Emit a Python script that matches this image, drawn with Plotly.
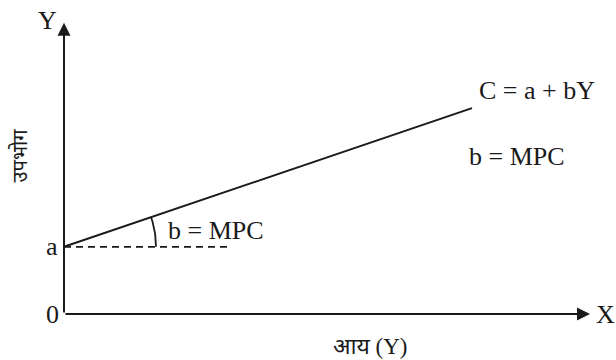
import numpy as np
import plotly.graph_objects as go

# Data (diagram units)
a = 1.68          # autonomous consumption (intercept)
b = 0.34          # MPC (slope)
income = [0.0, 10.2]
consumption = [a + b * v for v in income]
dash_end = 4.15
x_axis_end = 13.15
y_axis_end = 7.28
arc_radius = 2.3

labels = {
    "y_title": "उपभोग",
    "x_title": "आय (Y)",
    "eq": "C = a + bY",
    "mpc": "b = MPC",
}

SERIF = "Liberation Serif, Times New Roman, serif"
DEV = "Liberation Serif, Noto Sans, Lohit Devanagari, FreeSerif, sans-serif"

fig = go.Figure()

# consumption function line
fig.add_trace(go.Scatter(x=income, y=consumption, mode="lines",
                         line=dict(color="#1a1a1a", width=2), hoverinfo="skip"))
# dashed horizontal at a
fig.add_trace(go.Scatter(x=[0, dash_end], y=[a, a], mode="lines",
                         line=dict(color="#1a1a1a", width=1.8, dash="7px,5px"), hoverinfo="skip"))
# angle arc
theta = np.linspace(0, np.arctan(b), 30)
fig.add_trace(go.Scatter(x=arc_radius * np.cos(theta), y=a + arc_radius * np.sin(theta),
                         mode="lines", line=dict(color="#1a1a1a", width=1.8), hoverinfo="skip"))

# axes with arrows
fig.add_annotation(x=0, y=y_axis_end, ax=0, ay=0, xref="x", yref="y", axref="x", ayref="y",
                   showarrow=True, arrowhead=2, arrowsize=1.3, arrowwidth=2, arrowcolor="#1a1a1a", text="")
fig.add_annotation(x=x_axis_end, y=0, ax=0, ay=0, xref="x", yref="y", axref="x", ayref="y",
                   showarrow=True, arrowhead=2, arrowsize=1.3, arrowwidth=2, arrowcolor="#1a1a1a", text="")

def txt(x, y, s, size=26, font=SERIF, angle=0):
    fig.add_annotation(x=x, y=y, xref="x", yref="y", text=s, showarrow=False,
                       font=dict(family=font, size=size, color="#1a1a1a"), textangle=angle)

txt(-0.425, 7.33, "Y")
txt(13.53, -0.02, "X")
txt(-0.3, -0.02, "0")
txt(-0.3, 1.68, "a")
txt(11.83, 5.6, labels["eq"])
txt(11.33, 3.93, labels["mpc"])
txt(3.8, 2.1, labels["mpc"])
txt(-1.12, 3.97, labels["y_title"], size=20, font=DEV, angle=-90)
txt(7.65, -0.8, labels["x_title"], size=23, font=DEV)

fig.update_layout(
    width=616, height=360, margin=dict(l=0, r=0, t=0, b=0),
    paper_bgcolor="white", plot_bgcolor="white", showlegend=False,
    xaxis=dict(range=[-1.6, 13.8], visible=False, fixedrange=True),
    yaxis=dict(range=[-1.15, 7.85], visible=False, fixedrange=True),
)
fig.write_html(
    "out.html",
    config={"displayModeBar": False, "staticPlot": True},
    post_script="document.body.style.margin='0';document.body.style.overflow='hidden';",
)
